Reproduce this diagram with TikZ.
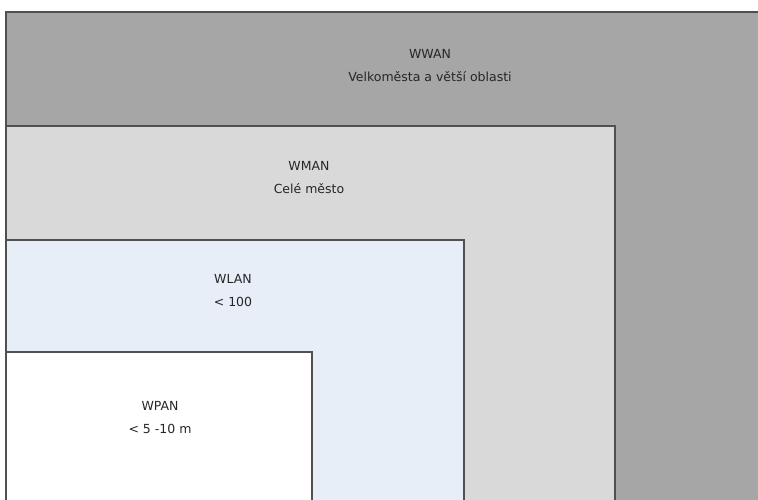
\documentclass[tikz,border=0pt]{standalone}
\usepackage{fontspec}
\setmainfont{DejaVu Sans}
\usetikzlibrary{positioning}
\definecolor{wwanfill}{HTML}{A6A6A6}
\definecolor{wmanfill}{HTML}{D9D9D9}
\definecolor{wlanfill}{HTML}{E8EEF7}
\definecolor{edgegray}{HTML}{505050}

\begin{document}
\begin{tikzpicture}[x=1pt, y=-1pt, zone/.style={draw=edgegray, line width=1.6pt}, every node/.style={align=center, inner sep=0pt, font=\fontsize{12.5}{23}\selectfont, text=black!85}]
	\useasboundingbox (0,0) rectangle (758,500);
	\clip (0,0) rectangle (758,500);
	\fill[white] (0,0) rectangle (758,500);
	\draw[zone, fill=wwanfill] (6,12) rectangle (790,530);
	\draw[zone, fill=wmanfill] (6,126) rectangle (615,530);
	\draw[zone, fill=wlanfill] (6,240) rectangle (464,530);
	\draw[zone, fill=white] (6,352) rectangle (312,530);
	\node (WWAN) at (430,66) {WWAN\\Velkoměsta a větší oblasti};
	\node (WMAN) at (309,178) {WMAN\\Celé město};
	\node (WLAN) at (233,291) {WLAN\\< 100};
	\node (WPAN) at (160,418) {WPAN\\< 5 -10 m};
\end{tikzpicture}
\end{document}
